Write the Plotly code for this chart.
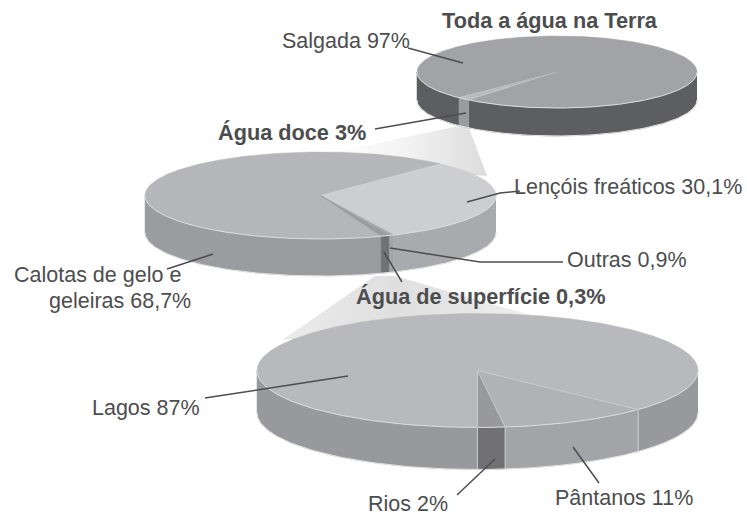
import numpy as np
import plotly.graph_objects as go

# Slice shares as drawn in the picture (the thin slivers are not drawn to their labelled size)
top_names = ["Salgada", "Água doce"]
top_shares = [98.5, 1.5]
mid_names = ["Calotas de gelo e geleiras", "Lençóis freáticos", "Outras", "Água de superfície"]
mid_shares = [67.55, 31.2, 0.45, 0.8]
bot_names = ["Lagos", "Pântanos", "Rios"]
bot_shares = [87, 11, 2]

# Pie geometry: centre x, centre y, radius x, radius y, depth, start angle (deg, clockwise from top)
top_pie = dict(cx=557, cy=72, rx=140, ry=36, depth=28, start=224.4)
mid_pie = dict(cx=320.5, cy=195.5, rx=175.5, ry=43.5, depth=37, start=159.8)
bot_pie = dict(cx=477.5, cy=370.5, rx=220.5, ry=57, depth=42, start=180)

top_face = ["#a1a3a6", "#b9babc"]
top_side = ["#5d5e60", "#9a9b9e"]
mid_face = ["#b5b6b9", "#cdcecf", "#a6a7a9", "#9a9b9d"]
mid_side = ["#9b9c9f", "#a9aaad", "#a3a4a6", "#717274"]
bot_face = ["#b8b9bc", "#b1b2b5", "#98999b"]
bot_side = ["#98999c", "#a3a4a7", "#717173"]

labels = [
    ("Toda a água na Terra", 440, 20, True),
    ("Salgada 97%", 280, 41, False),
    ("Água doce 3%", 216, 132, True),
    ("Lençóis freáticos 30,1%", 512, 187, False),
    ("Outras 0,9%", 565, 260, False),
    ("Calotas de gelo e", 12, 275, False),
    ("geleiras 68,7%", 47, 301, False),
    ("Água de superfície 0,3%", 354, 296, True),
    ("Lagos 87%", 90, 408, False),
    ("Rios 2%", 366, 504, False),
    ("Pântanos 11%", 553, 498, False),
]
leaders = [
    [(408, 48), (463, 63)],
    [(375, 129), (466, 113)],
    [(467, 202), (500, 193), (520, 191)],
    [(390, 248), (480, 262), (563, 262)],
    [(384, 252), (402, 282)],
    [(213, 254), (167, 269)],
    [(205, 398), (348, 376)],
    [(457, 495), (495, 459)],
    [(573, 447), (599, 483)],
]
TEXT = "#4c4d4f"
EDGE = "#dcdcde"

fig = go.Figure()


def poly(xs, ys, fill, line=None, lw=0.0):
    fig.add_trace(go.Scatter(
        x=xs, y=ys, mode="lines", fill="toself", fillcolor=fill,
        line=dict(color=line or fill, width=lw or 0.5), hoverinfo="skip", showlegend=False))


def gradient(xs, ys, stops):
    fig.add_trace(go.Scatter(
        x=xs, y=ys, mode="lines", fill="toself",
        fillgradient=dict(type="horizontal", colorscale=stops),
        line=dict(width=0), hoverinfo="skip", showlegend=False))


def pie3d(p, shares, face, side):
    total = sum(shares)
    a = p["start"]
    spans = []
    for s in shares:
        b = a + s / total * 360
        spans.append((a, b))
        a = b
    pt = lambda t: (p["cx"] + p["rx"] * np.sin(t), p["cy"] - p["ry"] * np.cos(t))
    # side walls
    for (a0, a1), col in zip(spans, side):
        for k in (0, 360):
            lo, hi = max(a0 - k, 90), min(a1 - k, 270)
            if hi <= lo:
                continue
            t = np.radians(np.linspace(lo, hi, 90))
            x, y = pt(t)
            poly(np.r_[x, x[::-1]], np.r_[y, y[::-1] + p["depth"]], col)
    # top faces
    for (a0, a1), col in zip(spans, face):
        t = np.radians(np.linspace(a0, a1, max(int(a1 - a0) * 2, 6)))
        x, y = pt(t)
        poly(np.r_[p["cx"], x, p["cx"]], np.r_[p["cy"], y, p["cy"]], col)
    # light rim along the front of the disc
    t = np.radians(np.linspace(90, 270, 180))
    x, y = pt(t)
    fig.add_trace(go.Scatter(x=x, y=y, mode="lines", line=dict(color=EDGE, width=1),
                             hoverinfo="skip", showlegend=False))
    x, y = pt(np.radians(np.linspace(90, 270, 180)))
    fig.add_trace(go.Scatter(x=x, y=y + p["depth"], mode="lines", line=dict(color="#e4e4e6", width=1),
                             hoverinfo="skip", showlegend=False))
    return spans


# fading funnels between the pies
gradient([459, 469, 487, 440, 335, 459], [126, 128, 176, 172, 152, 126],
         [[0, "#ffffff"], [0.45, "#f3f3f3"], [1, "#dcdcdd"]])
gradient([375, 395, 610, 477, 282, 375], [276, 276, 338, 325, 340, 276],
         [[0, "#ebebec"], [0.35, "#dfdfe0"], [0.7, "#ececed"], [1, "#ffffff"]])

pie3d(top_pie, top_shares, top_face, top_side)
pie3d(mid_pie, mid_shares, mid_face, mid_side)
spans = pie3d(bot_pie, bot_shares, bot_face, bot_side)

# thin light seams of the lower pie
for a in (spans[1][0], spans[2][0], spans[2][1]):
    t = np.radians(a)
    ex = bot_pie["cx"] + bot_pie["rx"] * np.sin(t)
    ey = bot_pie["cy"] - bot_pie["ry"] * np.cos(t)
    fig.add_trace(go.Scatter(x=[bot_pie["cx"], ex, ex], y=[bot_pie["cy"], ey, ey + bot_pie["depth"]],
                             mode="lines", line=dict(color="#c9cacc", width=1),
                             hoverinfo="skip", showlegend=False))

for seg in leaders:
    fig.add_trace(go.Scatter(x=[q[0] for q in seg], y=[q[1] for q in seg], mode="lines",
                             line=dict(color="#4c4d4f", width=1.5), hoverinfo="skip", showlegend=False))

for txt, x, y, bold in labels:
    fig.add_annotation(x=x, y=y, xref="x", yref="y", xanchor="left", yanchor="middle",
                       text=f"<b>{txt}</b>" if bold else txt, showarrow=False,
                       font=dict(family="Liberation Sans", size=21.7 if bold else 21.5, color=TEXT))

fig.update_layout(
    width=747, height=515, margin=dict(l=0, r=0, t=0, b=0),
    paper_bgcolor="white", plot_bgcolor="white", showlegend=False,
    xaxis=dict(range=[0, 747], visible=False, fixedrange=True),
    yaxis=dict(range=[515, 0], visible=False, fixedrange=True),
)
fig.write_html("out.html", config={"displayModeBar": False},
               post_script="document.body.style.margin='0';")
